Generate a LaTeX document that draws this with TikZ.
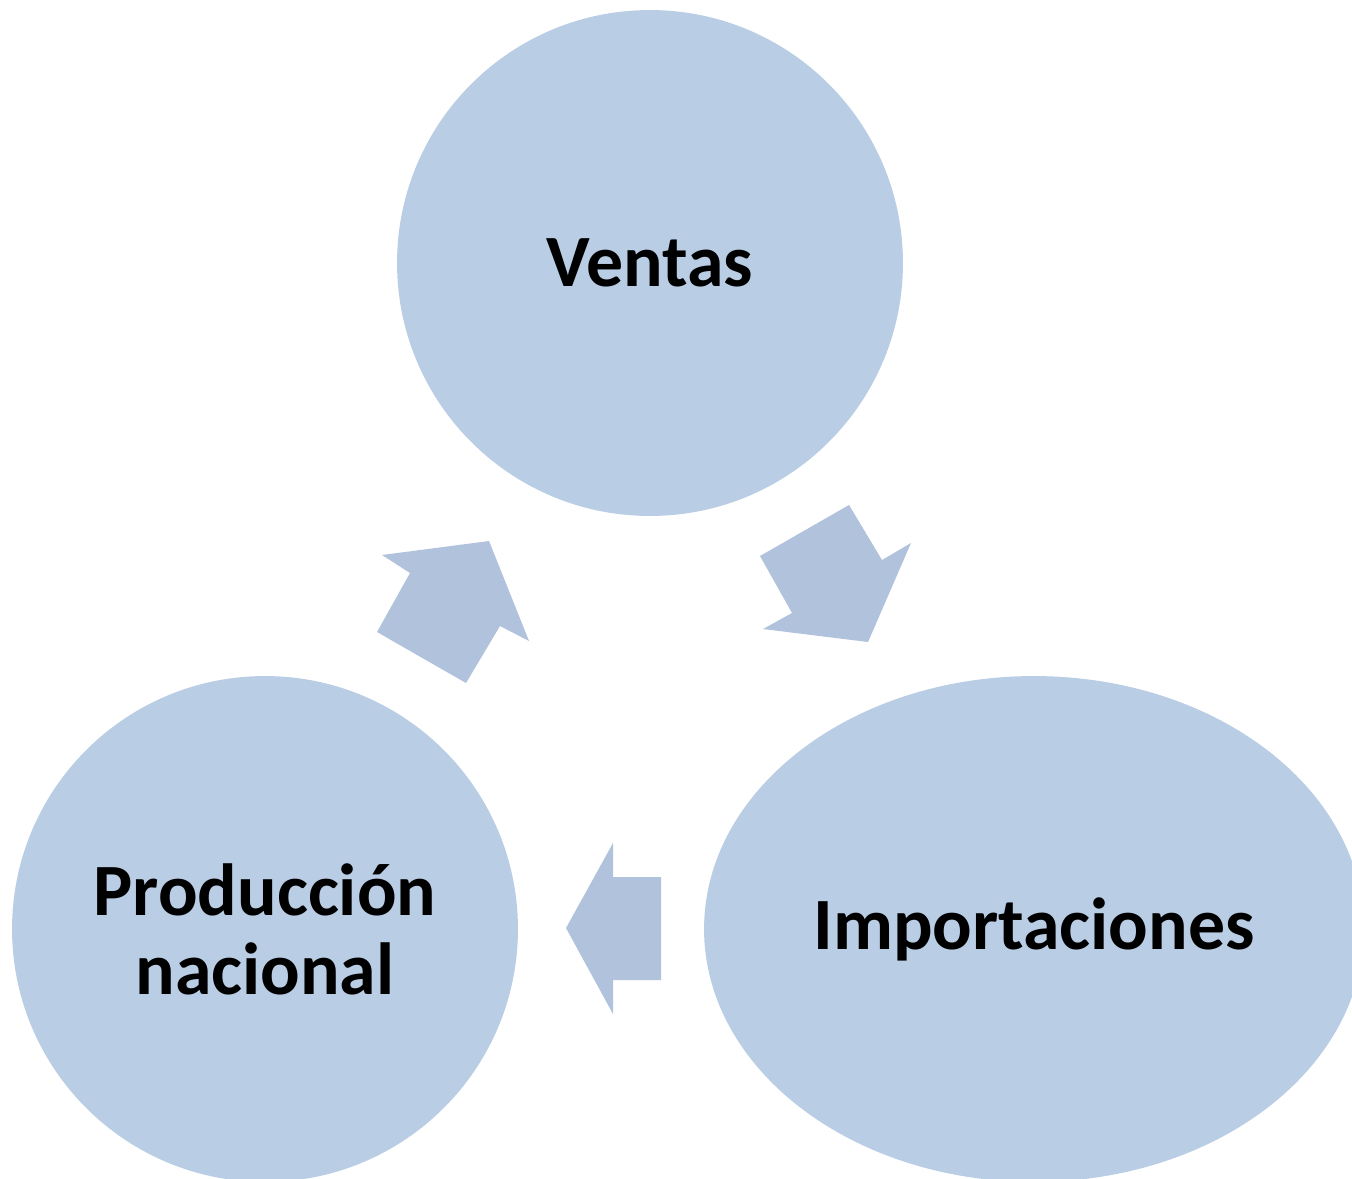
\documentclass[tikz,border=0pt]{standalone}
\usepackage{fontspec}
\setmainfont{Carlito}
\usepackage{tikz}
\usetikzlibrary{positioning,shapes.geometric}

\definecolor{bubble}{HTML}{B9CDE5}
\definecolor{arrowfill}{HTML}{B0C2DC}

\tikzset{
	bubble/.style={fill=bubble, draw=none, inner sep=0pt, align=center,
		font=\fontsize{42}{45}\selectfont\bfseries},
}

\begin{document}
\begin{tikzpicture}[x=0.02cm,y=-0.02cm]
			\clip (0,0) rectangle (1352,1178);

			\node[bubble, circle, minimum size=10.12cm] (ventas) at (650,263) {Ventas};
			\node[bubble, circle, minimum size=10.12cm] (prod) at (265,929) {Producción\\nacional};
			\node[bubble, ellipse, minimum width=13.2cm, minimum height=10.12cm] (imp) at (1034,929) {Importaciones};

			% arrows of the cycle
			\fill[arrowfill] (377,632) -- (410,573) -- (382,555) -- (489,541) -- (529,641) -- (500,626) -- (466,683) -- cycle;
			\fill[arrowfill] (760,556) -- (849,505) -- (882,560) -- (911,543) -- (868,642) -- (763,629) -- (792,613) -- cycle;
			\fill[arrowfill] (661,877) -- (613,877) -- (613,843) -- (566,928) -- (613,1014) -- (613,980) -- (661,980) -- cycle;
		\end{tikzpicture}
\end{document}
